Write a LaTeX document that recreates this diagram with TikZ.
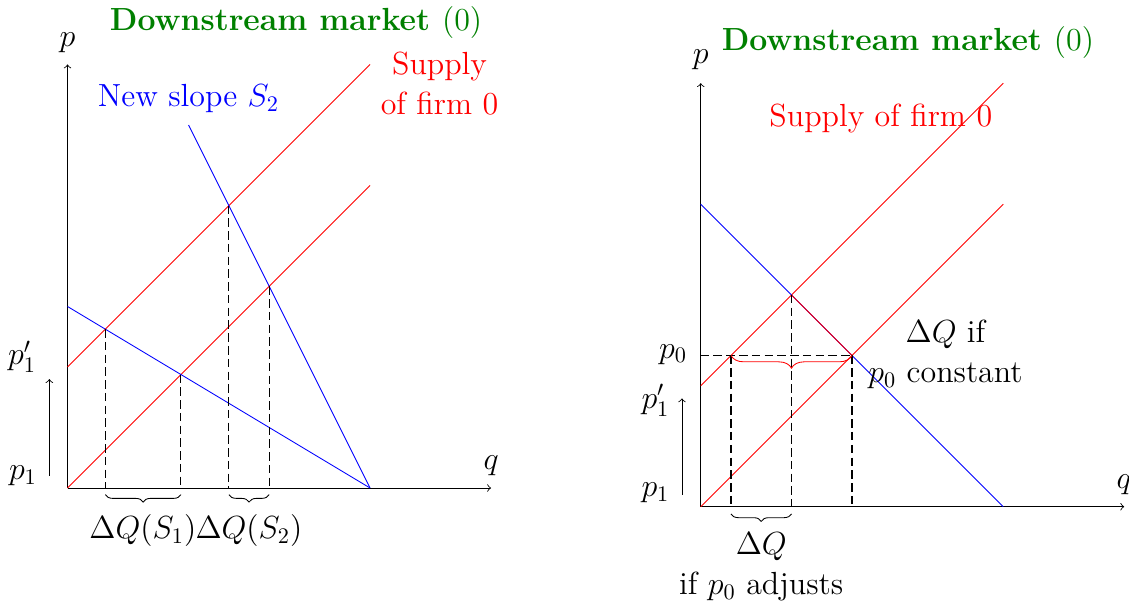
\documentclass[tikz,border=0pt]{standalone}
\usetikzlibrary{decorations.pathreplacing}
\begin{document}
\begin{tikzpicture}[x=1cm,y=1cm,font=\fontsize{14.4}{18}\selectfont]
\tikzset{
  txt/.style={scale=1.045},
  supply/.style={red},
  demand/.style={blue},
  guide/.style={dash pattern=on 4pt off 2pt,line width=0.5pt},
  axis/.style={->},
  ttl/.style={txt,font=\fontsize{14.4}{18}\selectfont\bfseries,text=green!50!black},
  bracedown/.style={decorate,decoration={brace,mirror,amplitude=3.5pt}},
  redbrace/.style={red,decorate,decoration={brace,mirror,amplitude=6pt}},
}
\useasboundingbox (-1.116,-1.901) rectangle (17.545,8.066);

% ---------------- left panel ----------------
\coordinate (LO) at (0,0);
\coordinate (LX) at (7,0);
\coordinate (LY) at (0,7);
\draw[axis] (LO) -- (LX);
\draw[axis] (LO) -- (LY);
\node[txt] (Lq) at (7,0.367) {$q$};
\node[txt] (Lp) at (0,7.36) {$p$};
\node[ttl] (Ltitle) at (3.777,7.69) {Downstream market $(0)$};

\coordinate (LA0) at (0,0);   \coordinate (LA5) at (5,5);
\coordinate (LB0) at (0,2);   \coordinate (LB5) at (5,7);
\coordinate (LD0) at (0,3);   \coordinate (LD5) at (5,0);
\coordinate (LS0) at (2,6);
\draw[supply] (LA0) -- (LA5);
\draw[supply] (LB0) -- (LB5);
\draw[demand] (LD0) -- (LD5);
\draw[demand] (LS0) -- (LD5);

\coordinate (LI1) at (0.625,2.625);  \coordinate (LF1) at (0.625,0);
\coordinate (LI2) at (1.875,1.875);  \coordinate (LF2) at (1.875,0);
\coordinate (LI3) at (2.6667,4.6667);\coordinate (LF3) at (2.6667,0);
\coordinate (LI4) at (3.3333,3.3333);\coordinate (LF4) at (3.3333,0);
\draw[guide] (LI1) -- (LF1);
\draw[guide] (LI2) -- (LF2);
\draw[guide] (LI3) -- (LF3);
\draw[guide] (LI4) -- (LF4);

\coordinate (LBa) at (0.625,-0.11);  \coordinate (LBb) at (1.875,-0.11);
\coordinate (LBc) at (2.6667,-0.11); \coordinate (LBd) at (3.3333,-0.11);
\draw[bracedown] (LBa) -- (LBb);
\draw[bracedown] (LBc) -- (LBd);
\node[txt] (LdQ1) at (1.245,-0.708) {$\Delta Q(S_1)$};
\node[txt] (LdQ2) at (2.998,-0.708) {$\Delta Q(S_2)$};

\node[txt] (Lp1) at (-0.736,0.20) {$p_1$};
\node[txt] (Lp1p) at (-0.75,2.17) {$p'_1$};
\coordinate (LAr0) at (-0.3,0.2);
\coordinate (LAr1) at (-0.3,1.8);
\draw[axis] (LAr0) -- (LAr1);

\node[txt,text=blue] (Lnew) at (2.0,6.43) {New slope $S_2$};
\node[txt,text=red,align=center] (Lsup) at (6.149,6.678) {Supply\\of firm 0};

% ---------------- right panel ----------------
\begin{scope}[shift={(10.466,-0.309)}]
\coordinate (RO) at (0,0);
\coordinate (RX) at (7,0);
\coordinate (RY) at (0,7);
\draw[axis] (RO) -- (RX);
\draw[axis] (RO) -- (RY);
\node[txt] (Rq) at (7,0.36) {$q$};
\node[txt] (Rp) at (0,7.38) {$p$};
\node[ttl] (Rtitle) at (3.424,7.677) {Downstream market $(0)$};
\node[txt,text=red] (Rsup) at (2.977,6.417) {Supply of firm 0};

\coordinate (RA0) at (0,0);  \coordinate (RA5) at (5,5);
\coordinate (RB0) at (0,2);  \coordinate (RB5) at (5,7);
\coordinate (RD0) at (0,5);  \coordinate (RD5) at (5,0);
\coordinate (RI1) at (1.5,3.5);
\coordinate (RI2) at (2.5,2.5);
\coordinate (RI0) at (0.5,2.5);
\coordinate (RP0) at (0,2.5);
\coordinate (RF0) at (0.5,0);
\coordinate (RF1) at (1.5,0);
\coordinate (RF2) at (2.5,0);
\draw[supply] (RA0) -- (RA5);
\draw[supply] (RB0) -- (RB5);
\draw[demand] (RD0) -- (RD5);
\draw[supply] (RI1) -- (RI2);

\draw[guide] (RP0) -- (RI2);
\draw[guide] (RI0) -- (RF0);
\draw[guide] (RI1) -- (RF1);
\draw[guide] (RI2) -- (RF2);

\draw[redbrace] (RI0) -- (RI2);
\coordinate (RBa) at (0.5,-0.12);  \coordinate (RBb) at (1.5,-0.12);
\draw[bracedown] (RBa) -- (RBb);

\node[txt] (Rp0) at (-0.455,2.52) {$p_0$};
\node[txt] (Rp1p) at (-0.748,1.76) {$p'_1$};
\node[txt] (Rp1) at (-0.748,0.227) {$p_1$};
\coordinate (RAr0) at (-0.31,0.2);
\coordinate (RAr1) at (-0.31,1.79);
\draw[axis] (RAr0) -- (RAr1);

\node[txt,align=center] (Rconst) at (4.045,2.51) {$\Delta Q$ if\\$p_0$ constant};
\node[txt,align=center] (Radj) at (1.0,-0.99) {$\Delta Q$\\if $p_0$ adjusts};
\end{scope}
\end{tikzpicture}
\end{document}
